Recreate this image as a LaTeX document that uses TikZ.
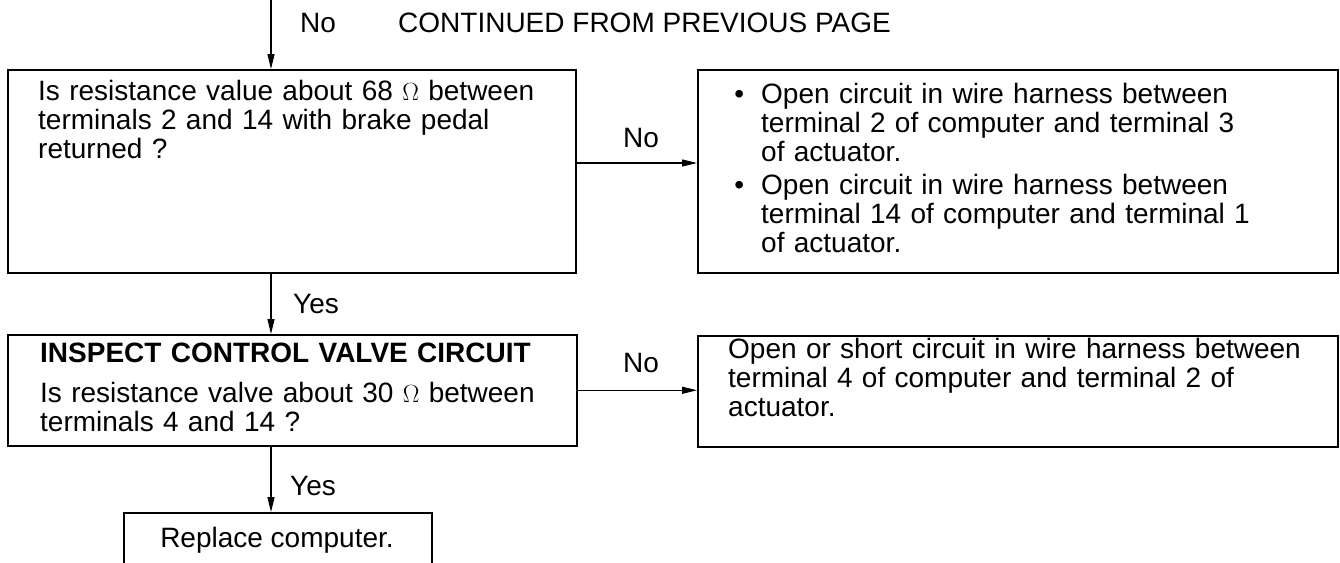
\documentclass[tikz,border=0pt]{standalone}
\usepackage{fontspec}
\setmainfont{Liberation Sans}
\usetikzlibrary{arrows.meta}
\begin{document}
\begin{tikzpicture}[x=1pt,y=-1pt,
  frame/.style={draw, line width=1.5pt, rectangle, inner sep=0pt, anchor=north west},
  txt/.style={inner sep=0pt, anchor=base west, align=left, text width=#1, font=\fontsize{28}{29}\selectfont},
  lbl/.style={inner sep=0pt, anchor=base west, font=\fontsize{28}{29}\selectfont},
  arr/.style={line width=1.2pt, -{Triangle[length=15pt,width=7pt]}}]
\useasboundingbox (0,0) rectangle (1340,562);

% boxes
\node[frame, minimum width=568pt, minimum height=203pt] (b1) at (7,69) {};
\node[frame, minimum width=640pt, minimum height=203pt] (b2) at (697,69) {};
\node[frame, minimum width=569pt, minimum height=111pt] (b3) at (7,334) {};
\node[frame, minimum width=640pt, minimum height=111pt] (b4) at (697,335) {};
\node[frame, minimum width=308pt, minimum height=80pt] (b5) at (123,512) {};

% texts
\node[lbl] (cont) at (398,32) {CONTINUED FROM PREVIOUS PAGE};
\node[lbl] (no0) at (300,32) {No};

\node[txt=540pt] (t1) at (38,100) {Is resistance value about 68 $\Omega$ between\\terminals 2 and 14 with brake pedal\\returned ?};

\node[txt=560pt] (t2) at (761,103) {\makebox[0pt][r]{\textbullet\hspace{17pt}}Open circuit in wire harness between\\terminal 2 of computer and terminal 3\\of actuator.\\[4pt]\makebox[0pt][r]{\textbullet\hspace{17pt}}Open circuit in wire harness between\\terminal 14 of computer and terminal 1\\of actuator.};

\node[txt=540pt] (t3) at (40,362) {\textbf{INSPECT CONTROL VALVE CIRCUIT}\\[11pt]Is resistance valve about 30 $\Omega$ between\\terminals 4 and 14 ?};

\node[txt=600pt] (t4) at (728,358) {Open or short circuit in wire harness between\\terminal 4 of computer and terminal 2 of\\actuator.};

\node[lbl, anchor=base] (t5) at (277,547) {Replace computer.};

% labels
\node[lbl] (no1) at (623,147) {No};
\node[lbl] (yes1) at (293,313) {Yes};
\node[lbl] (no2) at (623,372) {No};
\node[lbl] (yes2) at (290,495) {Yes};

% connectors
\coordinate (tp) at (271,0);
\coordinate (r1) at (0,163);
\draw[arr] (tp) -- (b1.north -| tp);
\draw[arr] (b1.east |- r1) -- (b2.west |- r1);
\draw[arr] (b1.south -| tp) -- (b3.north -| tp);
\draw[arr] (b3.east) -- (b4.west |- b3.east);
\draw[arr] (b3.south -| tp) -- (b5.north -| tp);
\end{tikzpicture}
\end{document}
